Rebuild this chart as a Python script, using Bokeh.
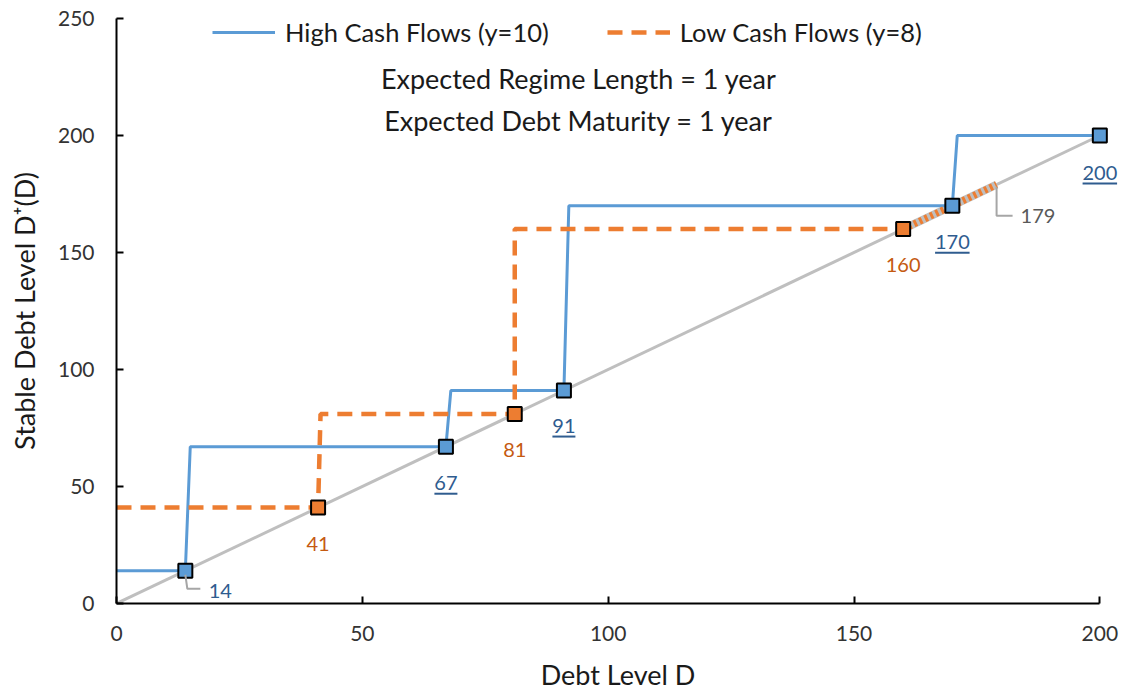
from bokeh.plotting import figure
from bokeh.models import Range1d, Legend, LegendItem, Label
from bokeh.embed import file_html
from bokeh.resources import INLINE

# ---- data ----
diag_x = [0, 200]
diag_y = [0, 200]

high_x = [0, 14, 15, 67, 68, 91, 92, 170, 171, 200]
high_y = [14, 14, 67, 67, 91, 91, 170, 170, 200, 200]

low_x = [0, 41, 41.5, 81, 81, 160, 179]
low_y = [41, 41, 81, 81, 160, 160, 179]

high_pts = [14, 67, 91, 170, 200]
low_pts = [41, 81, 160]
end_pt = [179]

high_labels = ["14", "67", "91", "170", "200"]
low_labels = ["41", "81", "160"]
end_labels = ["179"]

x_ticks = [0, 50, 100, 150, 200]
y_ticks = [0, 50, 100, 150, 200, 250]

BLUE = "#5B9BD5"
ORANGE = "#ED7D31"
BLUE_TXT = "#2F5C8F"
ORANGE_TXT = "#C55A11"
GRAY = "#BFBFBF"
FONT = "Lato"

XMAX, YMAX = 204, 250
FW, FH = 1003, 585
ML, MR, MT, MB = 116, 0, 18, 86

p = figure(frame_width=FW, frame_height=FH, output_backend="svg", toolbar_location=None,
           x_range=Range1d(0, XMAX), y_range=Range1d(0, YMAX),
           min_border_left=ML, min_border_right=MR, min_border_top=MT, min_border_bottom=MB)
p.outline_line_color = None
p.grid.visible = False
p.title.visible = False

# pixel scales
sx = FW / XMAX
sy = FH / YMAX

p.line(diag_x, diag_y, line_color=GRAY, line_width=3)
p.line([low_x[-2], low_x[-1]], [low_y[-2], low_y[-1]], line_color=GRAY, line_width=8)
r_high = p.line(high_x, high_y, line_color=BLUE, line_width=3)
r_low = p.line(low_x[:-1], low_y[:-1], line_color=ORANGE, line_width=4.5, line_dash="15 9")
p.line([low_x[-2], low_x[-1]], [low_y[-2], low_y[-1]], line_color=ORANGE, line_width=7, line_dash="3 3")

p.scatter(high_pts, high_pts, marker="square", size=14, fill_color=BLUE, line_color="black", line_width=2)
p.scatter(low_pts, low_pts, marker="square", size=14, fill_color=ORANGE, line_color="black", line_width=2)

# leader lines (pixel offsets converted to data units)
def leader(px, offs):
    xs = [px + ox / sx for ox, oy in offs]
    ys = [px - oy / sy for ox, oy in offs]
    p.line(xs, ys, line_color="#A6A6A6", line_width=2)

leader(high_pts[0], [(0, 4), (2, 18), (15, 18)])
leader(end_pt[0], [(0, 2), (0, 31), (16, 31)])

# data labels
LAB_FS = "20px"
hl_dx = [35, 0, 0, 0, 0]
hl_dy = [20, 36, 35, 36, 37]

def add_label(v, t, dx, dy, color, align="center"):
    p.add_layout(Label(x=v, y=v, text=t, x_offset=dx, y_offset=-dy, text_align=align,
                       text_baseline="middle", text_color=color, text_font=FONT,
                       text_font_size=LAB_FS))

ux0, ux1, uy = [], [], []
for v, lab, dx, dy in zip(high_pts, high_labels, hl_dx, hl_dy):
    add_label(v, lab, dx, dy, BLUE_TXT)
    if lab == "14":
        continue
    w = 11.5 * len(lab)
    ux0.append(v + (dx - w / 2) / sx)
    ux1.append(v + (dx + w / 2) / sx)
    uy.append(v - (dy + 11) / sy)
p.segment(ux0, uy, ux1, uy, line_color=BLUE_TXT, line_width=2)

for v, lab in zip(low_pts, low_labels):
    add_label(v, lab, 0, 36, ORANGE_TXT)
for v, lab in zip(end_pt, end_labels):
    add_label(v, lab, 24, 31, "#595959", align="left")

# annotation text
for yv, t in [(224.5, "Expected Regime Length = 1 year"), (206.5, "Expected Debt Maturity = 1 year")]:
    p.add_layout(Label(x=94, y=yv, text=t, text_align="center", text_baseline="middle",
                       text_font=FONT, text_font_size="27px", text_color="#1a1a1a"))

# legend
legend = Legend(items=[LegendItem(label="High Cash Flows (y=10)", renderers=[r_high]),
                       LegendItem(label="Low Cash Flows (y=8)", renderers=[r_low])],
                orientation="horizontal", location=(96, 556), padding=0, margin=0,
                spacing=58, glyph_width=63, glyph_height=26, label_standoff=10,
                border_line_color=None, background_fill_alpha=0,
                label_text_font=FONT, label_text_font_size="25.5px", label_text_color="#1a1a1a")
p.add_layout(legend)

# axes
for ax in (p.xaxis[0], p.yaxis[0]):
    ax.axis_line_color = "black"
    ax.axis_line_width = 2
    ax.major_tick_line_color = "black"
    ax.major_tick_line_width = 2
    ax.major_tick_in = 7
    ax.major_tick_out = 0
    ax.minor_tick_line_color = None
    ax.major_label_text_font = FONT
    ax.major_label_text_font_size = "21px"
    ax.major_label_text_color = "#333333"
    ax.axis_label_text_font = FONT
    ax.axis_label_text_font_size = "27px"
    ax.axis_label_text_color = "#1a1a1a"
    ax.axis_label_text_font_style = "normal"

p.xaxis.bounds = (0, 200)
p.yaxis.bounds = (0, 250)
p.xaxis.ticker = x_ticks
p.yaxis.ticker = y_ticks
p.xaxis.axis_label = "Debt Level D"
p.yaxis.axis_label = "Stable Debt Level D\u207a(D)"
p.xaxis.major_label_standoff = 22
p.yaxis.major_label_standoff = 22
p.xaxis.axis_label_standoff = 14
p.yaxis.axis_label_standoff = 14

open("out.html", "w").write(file_html(p, INLINE))
